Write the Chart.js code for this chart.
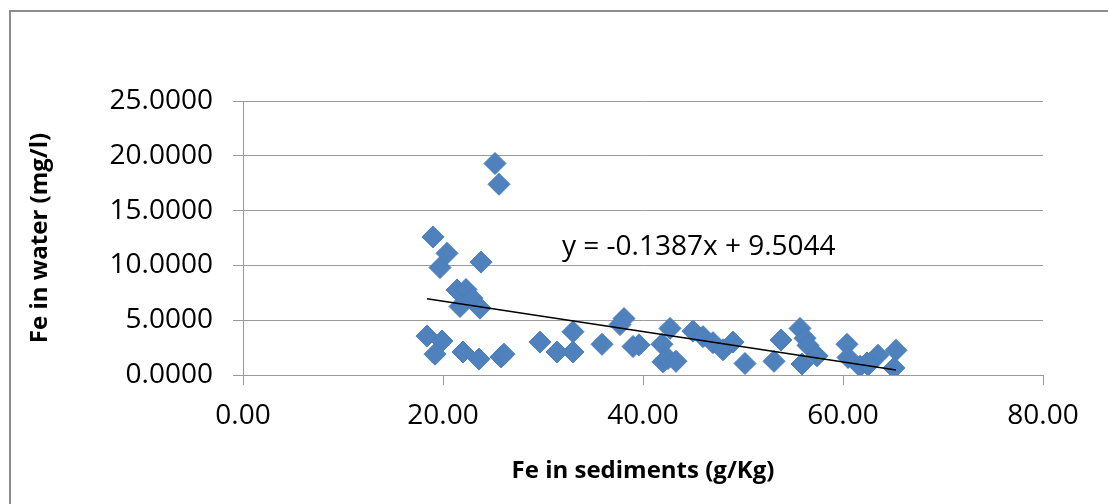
<!DOCTYPE html>
<html>
<head>
<meta charset="utf-8">
<script src="https://cdn.jsdelivr.net/npm/chart.js@4/dist/chart.umd.min.js"></script>
<style>
  body { margin: 0; background: #fff; }
  #wrap { width: 1108px; height: 504px; }
</style>
</head>
<body>
<div id="wrap"><canvas id="chart" width="1108" height="504"></canvas></div>
<script>
// Fe in sediments (g/Kg) vs Fe in water (mg/l)
const feSediments = [
  25.2, 25.6, 19.0, 20.4, 19.7, 23.8, 21.4, 22.3, 22.9, 21.7,
  23.7, 18.4, 19.9, 19.2, 22.0, 23.6, 25.8, 26.1, 29.7, 31.4,
  33.0, 33.0, 35.9, 38.1, 37.7, 39.6, 39.0, 42.7, 41.9, 42.0,
  42.5, 43.3, 45.0, 46.0, 47.0, 48.0, 49.0, 50.2, 53.8, 53.1,
  55.7, 56.2, 56.5, 57.4, 55.9, 60.4, 60.5, 61.7, 62.5, 63.5,
  65.3, 65.1, 62.4
];
const feWater = [
  19.3, 17.4, 12.6, 11.1, 9.8, 10.3, 7.75, 7.8, 7.0, 6.25,
  6.1, 3.55, 3.1, 1.9, 2.1, 1.45, 1.65, 1.9, 3.0, 2.1,
  3.95, 2.1, 2.8, 5.15, 4.6, 2.75, 2.6, 4.25, 2.8, 1.2,
  1.5, 1.25, 4.0, 3.5, 2.95, 2.3, 3.0, 1.05, 3.2, 1.25,
  4.25, 3.35, 2.7, 1.75, 1.0, 2.8, 1.6, 0.8, 0.9, 1.8,
  2.25, 0.65, 1.1
];

// linear trend as printed on the chart
const slope = -0.1387;
const intercept = 9.5044;
const trendLabel = "y = -0.1387x + 9.5044";

const yTicks = [0, 5, 10, 15, 20, 25];
const xTicks = [0, 20, 40, 60, 80];

const points = feSediments.map((x, i) => ({ x: x, y: feWater[i] }));
const xMin = Math.min(...feSediments);
const xMax = Math.max(...feSediments);
const trend = [
  { x: xMin, y: slope * xMin + intercept },
  { x: xMax, y: slope * xMax + intercept },
];

const FONT = "'Open Sans', 'Liberation Sans', sans-serif";

// grey frame round the chart, and the trend equation
const frame = {
  id: "frame",
  afterDraw(chart) {
    const ctx = chart.ctx;
    ctx.save();
    ctx.strokeStyle = "#8c8c8c";
    ctx.lineWidth = 2;
    ctx.strokeRect(10, 11, 1200, 600);
    const xs = chart.scales.x;
    const ys = chart.scales.y;
    ctx.fillStyle = "#000";
    ctx.font = "28px " + FONT;
    ctx.textAlign = "left";
    ctx.textBaseline = "middle";
    ctx.fillText(trendLabel, xs.getPixelForValue(31.9), ys.getPixelForValue(11.7));
    ctx.restore();
  },
};

new Chart(document.getElementById("chart"), {
  type: "scatter",
  data: {
    datasets: [
      {
        label: "Fe",
        data: points,
        pointStyle: "rectRot",
        pointRadius: 11,
        backgroundColor: "#4F81BD",
        borderColor: "#4A7EBB",
        borderWidth: 1,
        order: 2,
      },
      {
        label: "Linear (Fe)",
        data: trend,
        showLine: true,
        pointRadius: 0,
        borderColor: "#000",
        borderWidth: 1.5,
        fill: false,
        order: 1,
      },
    ],
  },
  options: {
    responsive: false,
    animation: false,
    layout: { padding: { top: 101, right: 65, left: 0, bottom: 0 } },
    plugins: {
      legend: { display: false },
      tooltip: { enabled: false },
    },
    scales: {
      x: {
        type: "linear",
        min: 0,
        max: 80,
        afterBuildTicks: (s) => { s.ticks = xTicks.map((v) => ({ value: v })); },
        afterFit: (s) => { s.height = 129; },
        grid: { drawOnChartArea: false, drawTicks: true, tickLength: 10, color: "#9A9A9A" },
        border: { display: true, color: "#9A9A9A", width: 1 },
        ticks: {
          padding: 14,
          color: "#000",
          font: { family: FONT, size: 28 },
          callback: (v) => v.toFixed(2),
          maxRotation: 0,
        },
        title: {
          display: true,
          text: "Fe in sediments (g/Kg)",
          color: "#000",
          font: { family: FONT, size: 24, weight: "bold" },
          padding: { top: 0, bottom: 18 },
        },
      },
      y: {
        type: "linear",
        min: 0,
        max: 25,
        afterBuildTicks: (s) => { s.ticks = yTicks.map((v) => ({ value: v })); },
        afterFit: (s) => { s.width = 243; },
        grid: { drawOnChartArea: true, drawTicks: true, tickLength: 10, color: "#9A9A9A" },
        border: { display: true, color: "#9A9A9A", width: 1 },
        ticks: {
          padding: 20,
          color: "#000",
          font: { family: FONT, size: 28 },
          callback: (v) => v.toFixed(4),
        },
        title: {
          display: true,
          text: "Fe in water (mg/l)",
          color: "#000",
          font: { family: FONT, size: 24, weight: "bold" },
          padding: { top: 26, bottom: 0 },
        },
      },
    },
  },
  plugins: [frame],
});
</script>
</body>
</html>
